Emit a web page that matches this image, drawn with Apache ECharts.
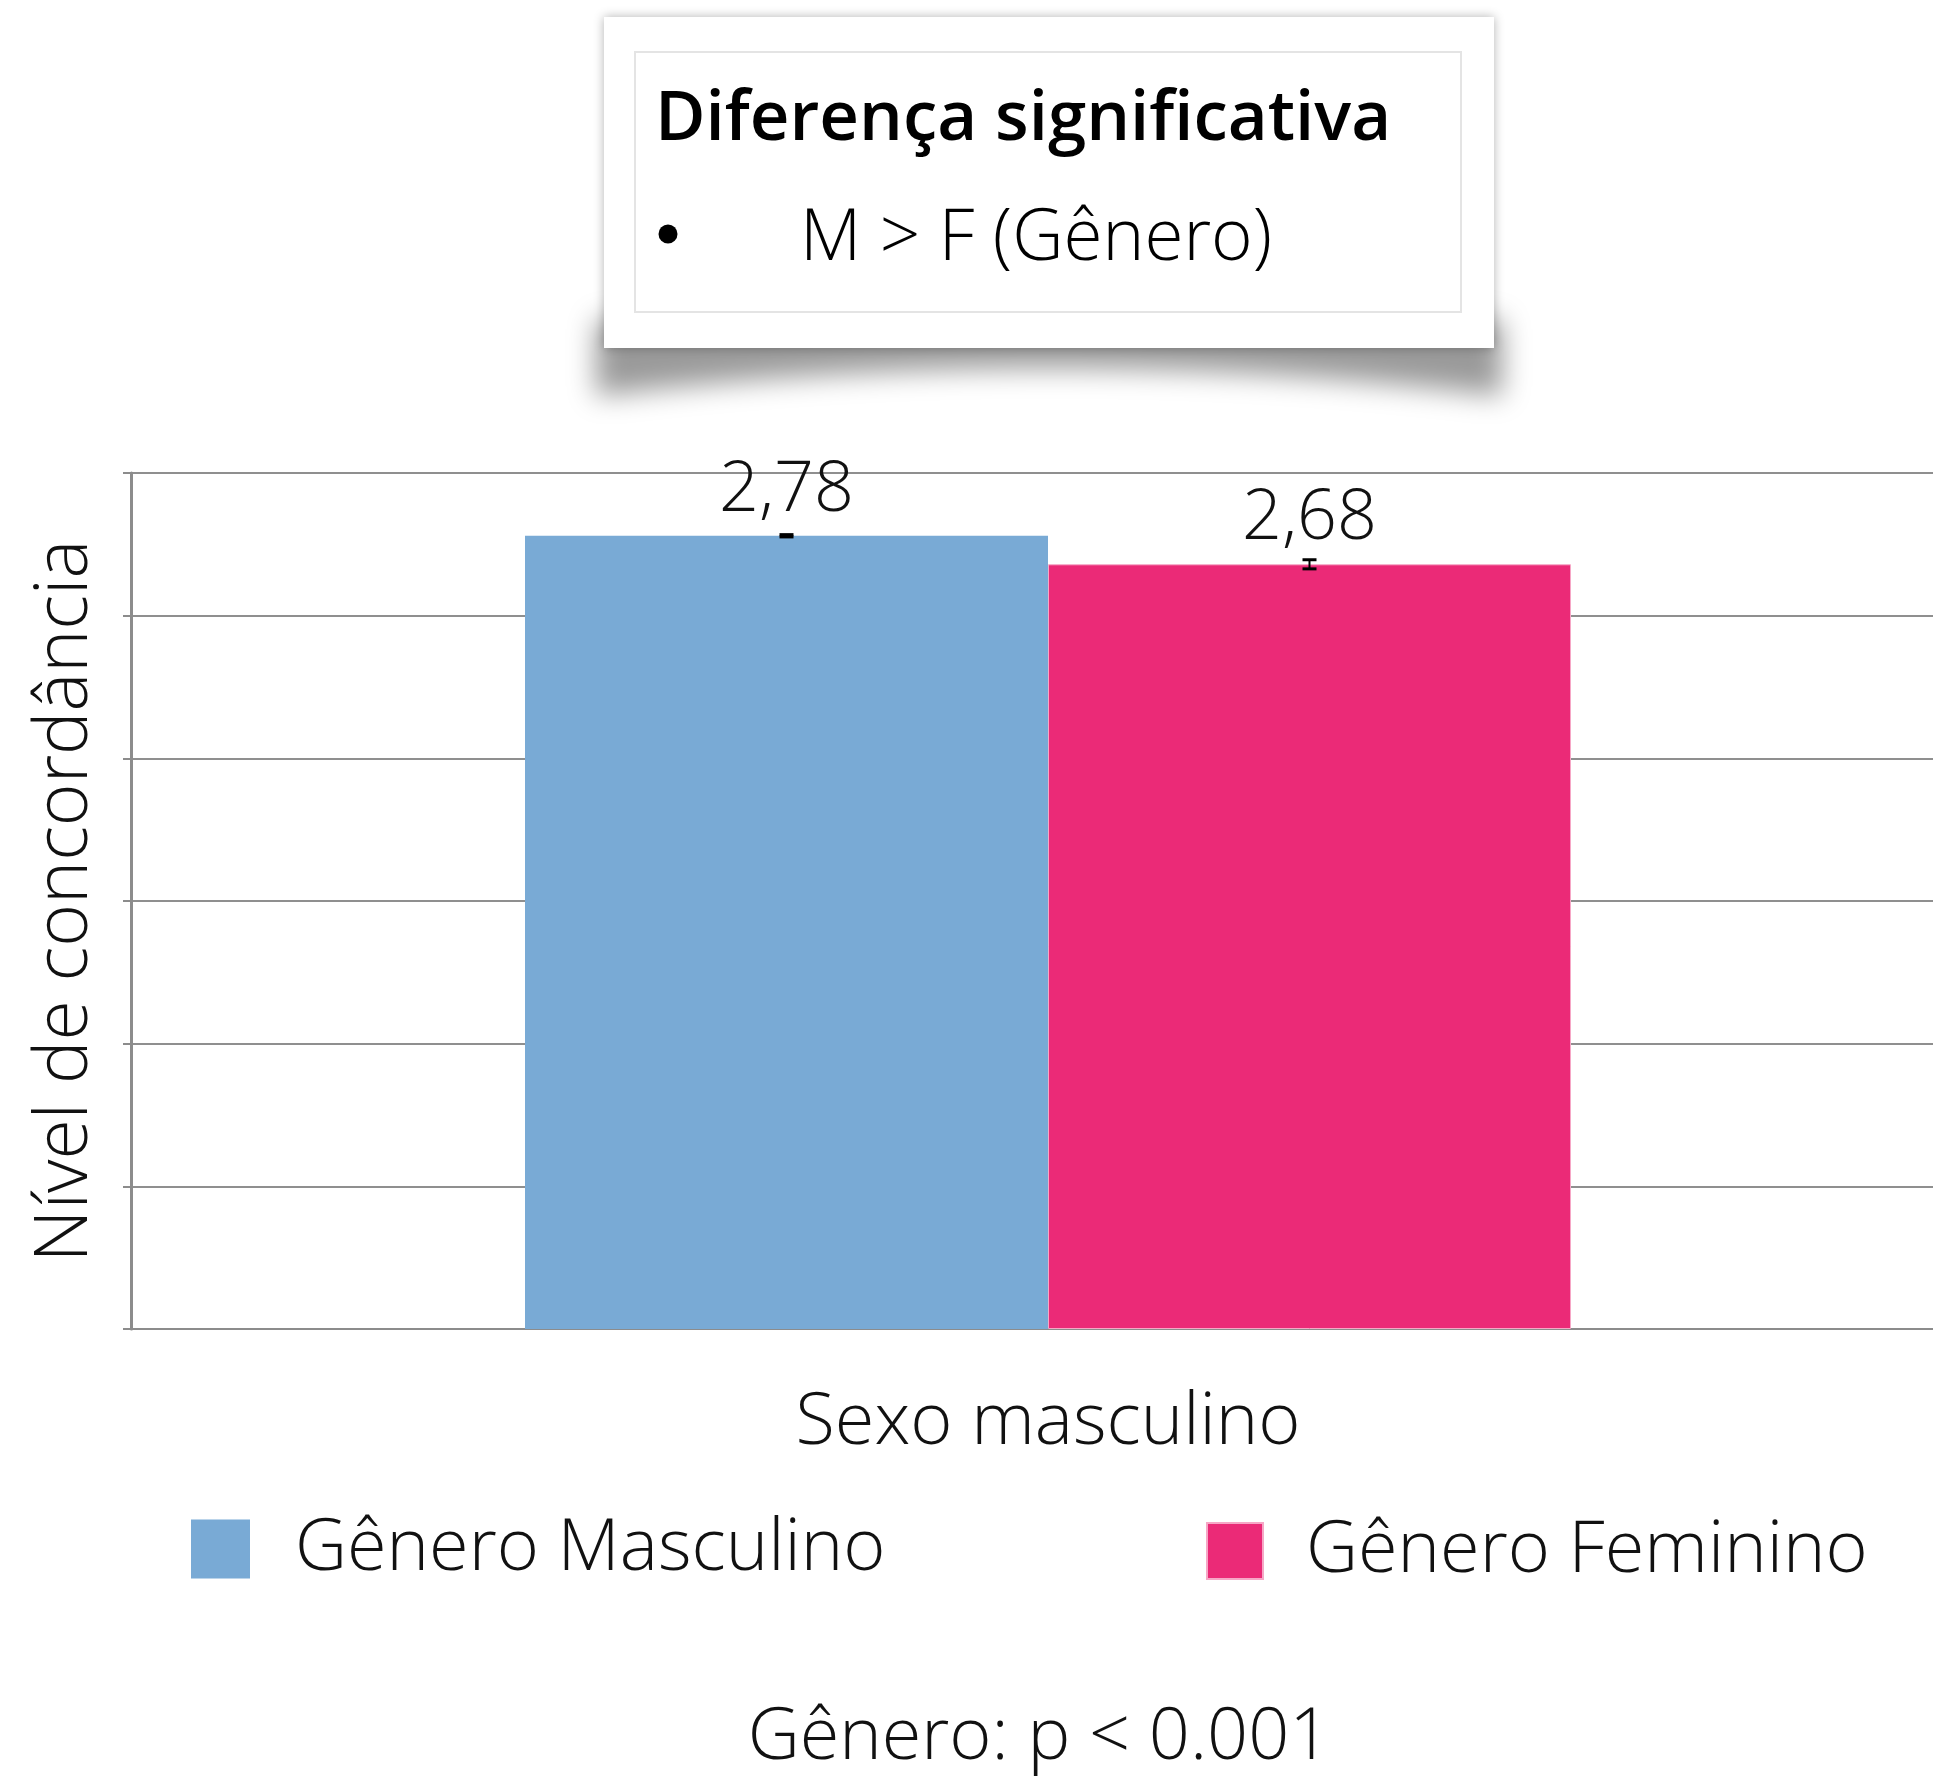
<!DOCTYPE html>
<html>
<head>
<meta charset="utf-8">
<script src="https://cdn.jsdelivr.net/npm/echarts@6/dist/echarts.min.js"></script>
<style>
  html, body { margin: 0; padding: 0; background: #fff; }
  #chart { width: 1933px; height: 1778px; }
</style>
</head>
<body>
<div id="chart"></div>
<script>
// dados
const categories = ['Sexo masculino']
const seriesNames = ['Gênero Masculino', 'Gênero Feminino']
const masculino = [2.78]
const feminino = [2.68]
// meia-amplitude das barras de erro
const erroMasculino = [0.004]
const erroFeminino = [0.016]
const seriesColors = ['#79aad5', '#eb2a77']

const FONT = '"Open Sans", Lato, sans-serif'
const BAR_W = 523

const fmt = v => v.toFixed(2).replace('.', ',')

const myChart = echarts.init(document.getElementById('chart'), null, { renderer: 'canvas' })

// barras de erro (pequenas) desenhadas sobre cada barra
const errorSeries = (values, errs, side) => ({
  type: 'custom',
  z: 10,
  silent: true,
  data: values.map((v, i) => [i, v - errs[i], v + errs[i]]),
  renderItem: (params, api) => {
    const lo = api.coord([api.value(0), api.value(1)])
    const hi = api.coord([api.value(0), api.value(2)])
    const x = lo[0] + side * BAR_W / 2
    const cap = 7
    return {
      type: 'group',
      children: [
        { type: 'line', shape: { x1: x, y1: hi[1], x2: x, y2: lo[1] }, style: { stroke: '#000', lineWidth: 2 } },
        { type: 'line', shape: { x1: x - cap, y1: hi[1], x2: x + cap, y2: hi[1] }, style: { stroke: '#000', lineWidth: 3 } },
        { type: 'line', shape: { x1: x - cap, y1: lo[1], x2: x + cap, y2: lo[1] }, style: { stroke: '#000', lineWidth: 3 } }
      ]
    }
  }
})

// contorno da sombra curva sob a caixa (desenhado fora da tela, só a sombra aparece)
const SHIFT = 3000
const shadowPts = () => {
  const pts = [[596, 320 - SHIFT], [1502, 320 - SHIFT]]
  for (let i = 0; i <= 30; i++) {
    const t = i / 30
    const x = (1 - t) * (1 - t) * 1502 + 2 * t * (1 - t) * 1050 + t * t * 596
    const y = (1 - t) * (1 - t) * 396 + 2 * t * (1 - t) * 340 + t * t * 396
    pts.push([x, y - SHIFT])
  }
  return pts
}

const barLabel = {
  show: true,
  position: 'top',
  distance: 10,
  formatter: p => fmt(p.value),
  color: '#111',
  fontFamily: FONT,
  fontWeight: 300,
  fontSize: 70
}

const option = {
  animation: false,
  backgroundColor: '#fff',
  grid: { left: 131, top: 473, width: 1834, height: 856, containLabel: false, outerBoundsMode: 'none' },
  legend: [
    {
      data: [seriesNames[0]],
      left: 186, top: 1508,
      itemWidth: 59, itemHeight: 59,
      icon: 'rect',
      textStyle: { fontFamily: FONT, fontWeight: 300, fontSize: 72, color: '#111', padding: [10, 0, 0, 40] }
    },
    {
      data: [seriesNames[1]],
      left: 1201, top: 1510,
      itemWidth: 56, itemHeight: 56,
      icon: 'rect',
      textStyle: { fontFamily: FONT, fontWeight: 300, fontSize: 72, color: '#111', padding: [10, 0, 0, 38] }
    }
  ],
  xAxis: {
    type: 'category',
    data: categories,
    axisLine: { show: true, lineStyle: { color: '#8c8c8c', width: 2 } },
    axisTick: { show: false },
    axisLabel: { margin: 58, color: '#111', fontFamily: FONT, fontWeight: 300, fontSize: 72 }
  },
  yAxis: {
    type: 'value',
    min: 0,
    max: 3,
    interval: 0.5,
    name: 'Nível de concordância',
    nameLocation: 'middle',
    nameGap: 28,
    nameRotate: 90,
    nameTextStyle: { fontFamily: FONT, fontWeight: 300, fontSize: 73, color: '#111' },
    axisLine: { show: true, lineStyle: { color: '#8c8c8c', width: 3 } },
    axisTick: { show: true, length: 8, lineStyle: { color: '#8c8c8c', width: 2 } },
    axisLabel: { show: false },
    splitLine: { lineStyle: { color: '#8f8f8f', width: 2 } }
  },
  series: [
    {
      name: seriesNames[0],
      type: 'bar',
      data: masculino,
      barWidth: BAR_W,
      barGap: '0%',
      itemStyle: { color: seriesColors[0] },
      label: barLabel
    },
    {
      name: seriesNames[1],
      type: 'bar',
      data: feminino,
      barWidth: BAR_W,
      barGap: '0%',
      itemStyle: { color: seriesColors[1], borderColor: '#f6a7c6', borderWidth: 1 },
      label: barLabel
    },
    errorSeries(masculino, erroMasculino, -1),
    errorSeries(feminino, erroFeminino, 1)
  ],
  graphic: [
    {
      type: 'polygon',
      z: 1,
      silent: true,
      shape: { points: shadowPts() },
      style: { fill: '#000', shadowBlur: 28, shadowColor: 'rgba(0,0,0,0.4)', shadowOffsetY: SHIFT }
    },
    {
      type: 'rect',
      z: 2,
      silent: true,
      shape: { x: 604, y: 17, width: 890, height: 331 },
      style: { fill: '#fff', shadowBlur: 10, shadowColor: 'rgba(0,0,0,0.3)' }
    },
    {
      type: 'rect',
      z: 3,
      silent: true,
      shape: { x: 635, y: 52, width: 826, height: 260 },
      style: { fill: '#fff', stroke: '#e4e4e4', lineWidth: 2 }
    },
    {
      type: 'text',
      z: 4,
      left: 655, top: 86,
      style: { text: 'Diferença significativa', fontFamily: FONT, fontWeight: 600, fontSize: 69, fill: '#000' }
    },
    {
      type: 'circle',
      z: 4,
      shape: { cx: 668, cy: 234, r: 9.5 },
      style: { fill: '#000' }
    },
    {
      type: 'text',
      z: 4,
      left: 800, top: 204,
      style: { text: 'M > F (Gênero)', fontFamily: FONT, fontWeight: 300, fontSize: 71, fill: '#000' }
    },
    {
      type: 'text',
      x: 1039, y: 1738,
      style: {
        text: 'Gênero: p < 0.001', fontFamily: FONT, fontWeight: 300, fontSize: 72, fill: '#111',
        align: 'center', verticalAlign: 'middle'
      }
    }
  ]
}

myChart.setOption(option)
</script>
</body>
</html>
